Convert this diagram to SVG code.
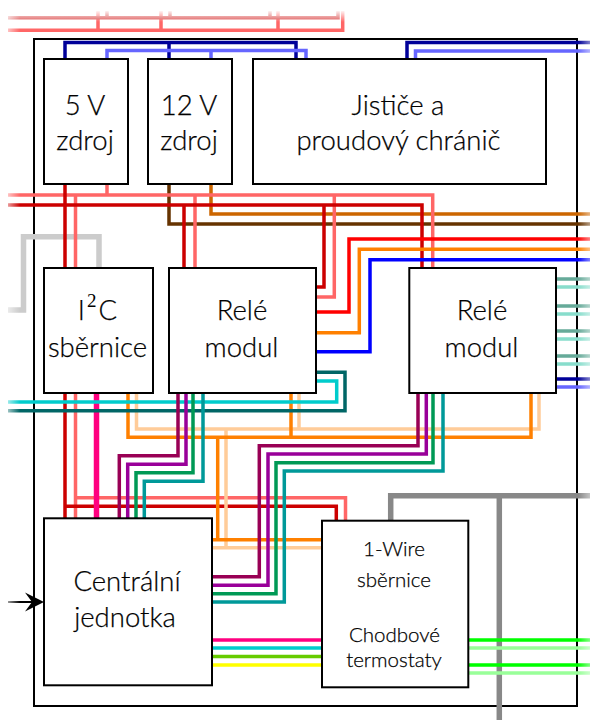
<svg xmlns="http://www.w3.org/2000/svg" width="590" height="720" viewBox="0 0 590 720">
<style>
.w{fill:none;stroke-width:3.5;stroke-linejoin:miter}
.box{fill:#fff;stroke:#000;stroke-width:2}
.t{font-family:"Lato","Open Sans",sans-serif;font-weight:300;font-size:27.5px;text-anchor:middle;fill:#000;stroke:#000;stroke-width:.25}
.s{font-size:20.5px}
.pk{stroke:#ff6666}.dr{stroke:#cc0000}.db{stroke:#000099}.lb{stroke:#6666ff}
.br{stroke:#663300}.oc{stroke:#cc6600}.re{stroke:#ff0000}.or{stroke:#ff8000}.bl{stroke:#0000ff}
.lo{stroke:#ffcc99}.dm{stroke:#990055}.pu{stroke:#990099}.gr{stroke:#009955}.te{stroke:#009999}
.dt{stroke:#006666}.cy{stroke:#00cccc}.mg{stroke:#ff0080}.lg{stroke:#66cc00}.ye{stroke:#ffff00}
.bg{stroke:#00ff00}.pg{stroke:#99ff99}.t1{stroke:#66aa99}.t2{stroke:#88ddcc}
.up{stroke:#dd5555}.th{stroke-width:5.5}
</style>
<defs>
<linearGradient id="fl" x1="0" x2="1" y1="0" y2="0"><stop offset="0" stop-color="#fff"/><stop offset="1" stop-color="#fff" stop-opacity="0"/></linearGradient>
<linearGradient id="fr" x1="0" x2="1" y1="0" y2="0"><stop offset="0" stop-color="#fff" stop-opacity="0"/><stop offset="1" stop-color="#fff"/></linearGradient>
<linearGradient id="ft" x1="0" x2="0" y1="0" y2="1"><stop offset="0" stop-color="#fff"/><stop offset="1" stop-color="#fff" stop-opacity="0"/></linearGradient>
</defs>
<rect id="outer" x="34" y="39" width="543" height="667" fill="none" stroke="#000" stroke-width="2"/>
<g id="connectors" class="w">
<path class="w pk" d="M8 30.3H342.7V11M98 30.3V11M161 30.3V11M278 30.3V11"/>
<path class="w up" d="M8 17.7H338V11M107 17.7V11M170 17.7V11M270 17.7V11"/>
<path class="w db" d="M65 59V42.5H296V59M169 42.5V59"/>
<path class="w lb" d="M107 59V50.5H306V59M211 50.5V59"/>
<path class="w db" d="M407 59V42.5H590"/>
<path class="w lb" d="M415.5 59V51H590"/>
<path class="w th" style="stroke:#ccc" d="M8 310H23.5V236.7H99V268"/>
<path class="w br" d="M169 184V224H590"/>
<path class="w oc" d="M211 184V214H590"/>
<path class="w pk" d="M8 195H432.7V268M107 184V195M75.5 195V518M195 195V268M334.3 195V297H316"/>
<path class="w dr" d="M8 205H422V268M65 184V518M184 205V268M324 205V287H316"/>
<path class="w pk" d="M75.5 497.7H345.5V520"/>
<path class="w dr" d="M65 506.3H336.3V520"/>
<path class="w re" d="M316 312H349V239H590"/>
<path class="w or" d="M316 332.7H359.3V249.3H590"/>
<path class="w bl" d="M316 351.7H370V259.7H590"/>
<path class="w lo" d="M136.5 393V429H539V393M299 393V429M226 429V547.7M212 547.7H322"/>
<path class="w or" d="M128 393V437.3H531V393M291 393V437M217.7 437V539.7M212 539.7H322"/>
<path class="w mg th" d="M96.5 393V518"/>
<path class="w cy" d="M8 402H336.7V381H316"/>
<path class="w dt" d="M8 410.7H345V372.3H316"/>
<path class="w dm" d="M178 393V455.7H119.3V518"/>
<path class="w pu" d="M186 393V464.3H127.7V518"/>
<path class="w gr" d="M193 393V472.7H136V518"/>
<path class="w te" d="M203 393V481.3H144.3V518"/>
<path class="w dm" d="M418 393V445.7H259.3V576.7H212"/>
<path class="w pu" d="M426.3 393V454H268V585.3H212"/>
<path class="w gr" d="M433 393V462.7H276V593.7H212"/>
<path class="w te" d="M443 393V471H284.3V602H212"/>
<path class="w mg" d="M212 640H322"/>
<path class="w cy" d="M212 648H322"/>
<path class="w lg" d="M212 656.5H322"/>
<path class="w ye" d="M212 665H322"/>
<path class="w th" style="stroke:#888" d="M390.7 520V495.7H590M499.3 495.7V720"/>
<path class="w bg" d="M468 640H590M468 665H590"/>
<path class="w pg" d="M468 648H590M468 673H590"/>
<path class="w t1" d="M556 279H590M556 306H590M556 331H590M556 356H590"/>
<path class="w t2" d="M556 287H590M556 314H590M556 339H590M556 364H590"/>
<path class="w db" d="M556 379H590"/>
<path class="w lb" d="M556 387H590"/>
<path d="M8 602H33" fill="none" stroke="#000" stroke-width="2"/>
<path d="M44 602L25 592.5L32 602L25 611.5Z" fill="#000"/>
<rect x="0" y="8" width="20" height="600" fill="url(#fl)"/>
<rect x="578" y="39" width="24" height="650" fill="url(#fr)"/>
<rect x="0" y="10" width="350" height="12" fill="url(#ft)"/>
</g>
<g id="zdroj5"><rect class="box" x="44" y="59" width="84" height="125"/><text class="t" x="85" y="115">5 V</text><text class="t" x="85" y="150">zdroj</text></g>
<g id="zdroj12"><rect class="box" x="148" y="59" width="84" height="125"/><text class="t" x="189" y="115">12 V</text><text class="t" x="189" y="150">zdroj</text></g>
<g id="jistice"><rect class="box" x="253" y="59" width="293" height="125"/><text class="t" x="398" y="115">Jističe a</text><text class="t" x="398.5" y="150">proudový chránič</text></g>
<g id="i2c"><rect class="box" x="44" y="268" width="109" height="125"/><text class="t" x="97.5" y="320">I<tspan font-family="Liberation Serif" font-size="19" dy="-13" dx="2" stroke="none">2</tspan><tspan dy="13" dx="2">C</tspan></text><text class="t" x="97.5" y="356.7">sběrnice</text></g>
<g id="rele1"><rect class="box" x="169" y="268" width="147" height="125"/><text class="t" x="242" y="320">Relé</text><text class="t" x="241.5" y="356.7">modul</text></g>
<g id="rele2"><rect class="box" x="409.3" y="268" width="146.7" height="125"/><text class="t" x="482" y="320">Relé</text><text class="t" x="481.5" y="356.7">modul</text></g>
<g id="centralni"><rect class="box" x="44" y="518.3" width="168" height="167"/><text class="t" x="127" y="590.7">Centrální</text><text class="t" x="125" y="627.3">jednotka</text></g>
<g id="onewire"><rect class="box" x="322" y="520.7" width="146.3" height="166.6"/><text class="t s" x="394" y="556">1-Wire</text><text class="t s" x="394" y="586.7">sběrnice</text><text class="t s" x="394.5" y="641.7">Chodbové</text><text class="t s" x="394" y="666.7">termostaty</text></g>
</svg>
